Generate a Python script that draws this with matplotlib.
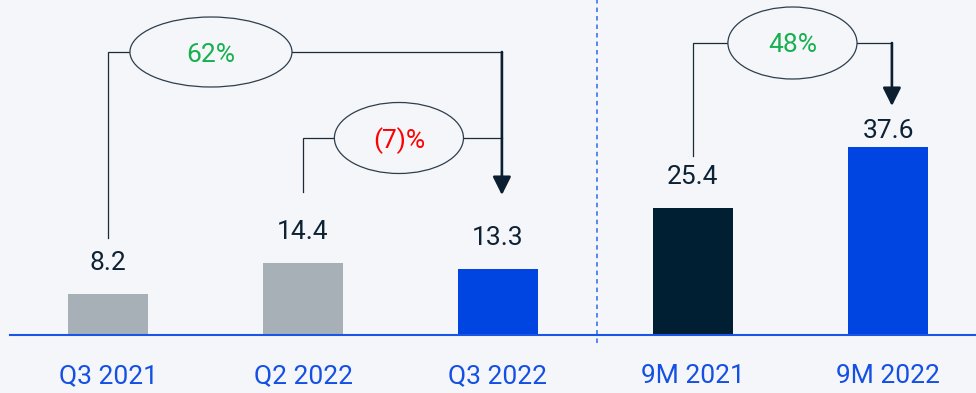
import matplotlib.pyplot as plt
from matplotlib.patches import Ellipse

plt.rcParams['font.family'] = ['Roboto', 'DejaVu Sans']

# === Data ===
periods = ["Q3 2021", "Q2 2022", "Q3 2022", "9M 2021", "9M 2022"]
values = [8.2, 14.4, 13.3, 25.4, 37.6]
bar_colors = ["#a7b0b6", "#a7b0b6", "#0044e1", "#001f33", "#0044e1"]

# growth brackets: from bar -> to bar
change_labels = ["62%", "(7)%", "48%"]
change_from = [0, 1, 3]
change_to = [2, 2, 4]
change_colors = ["#17b04f", "#ff0000", "#17b04f"]

BG = "#f4f6f9"
NAVY = "#0e2235"
LINE = "#1c2b3a"
AXIS_BLUE = "#1a56e6"

fig = plt.figure(figsize=(9.76, 3.93), dpi=100, facecolor=BG)
ax = fig.add_axes([0, 58 / 393, 1, 335 / 393], facecolor=BG)

x = list(range(len(periods)))
bars = ax.bar(x, values, width=0.41, color=bar_colors, zorder=2)

ax.set_xlim(-108 / 195, 868 / 195)
ax.set_ylim(0, 67)

# value labels above bars (last one sits closer, under the arrow)
label_pad = [17, 17, 17, 17, 6.5]
for b, v, pad in zip(bars, values, label_pad):
    ax.annotate(f"{v:.1f}", (b.get_x() + b.get_width() / 2, v),
                xytext=(0, pad), textcoords="offset points",
                ha="center", va="baseline", fontsize=19, color=NAVY)

# axis styling
for s in ["top", "left", "right"]:
    ax.spines[s].set_visible(False)
ax.spines["bottom"].set_color(AXIS_BLUE)
ax.spines["bottom"].set_linewidth(1.5)
ax.spines["bottom"].set_bounds(-0.503, 868 / 195)
ax.set_yticks([])
ax.set_xticks(x)
ax.set_xticklabels(periods, fontsize=19, color="#1450e4")
ax.tick_params(axis="x", length=0, pad=21)

# quarter / nine-month divider
ax.plot([2.51, 2.51], [-1.6, 67], color="#4a7ef0", lw=1.3,
        linestyle=(0, (2.5, 2.2)), clip_on=False, zorder=1)

# bracket layout: line level, start-line bottom, ellipse centre x, ellipse w/h, arrow tip
layout = [
    dict(level=56.6, start_bottom=19.4, cx=0.528, w=0.831, h=14.0, tip=28.0),
    dict(level=39.4, start_bottom=28.6, cx=1.492, w=0.662, h=14.2, tip=None),
    dict(level=58.4, start_bottom=35.8, cx=3.51, w=0.662, h=14.4, tip=45.8),
]
arrow_dx = 0.02

for lab, i0, i1, col, lay in zip(change_labels, change_from, change_to,
                                 change_colors, layout):
    xa = x[i0]
    xb = x[i1] + arrow_dx
    lvl = lay["level"]
    # thin line up from the starting bar
    ax.plot([xa, xa, xb], [lay["start_bottom"], lvl, lvl], color=LINE,
            lw=0.9, zorder=3, solid_joinstyle="miter")
    # thick arrow down onto the target bar
    if lay["tip"] is not None:
        ax.annotate("", xy=(xb, lay["tip"]), xytext=(xb, lvl),
                    arrowprops=dict(arrowstyle="-|>,head_length=1.1,head_width=0.55",
                                    mutation_scale=10, color="#0b1f30", lw=1.9,
                                    shrinkA=0, shrinkB=0), zorder=4)
    ell = Ellipse((lay["cx"], lvl), lay["w"], lay["h"], facecolor=BG,
                  edgecolor="#2e3e4e", lw=0.9, zorder=5)
    ax.add_patch(ell)
    ax.text(lay["cx"], lvl, lab, ha="center", va="center_baseline",
            fontsize=19, color=col, zorder=6)

fig.savefig("out.png", dpi=100, facecolor=BG)
